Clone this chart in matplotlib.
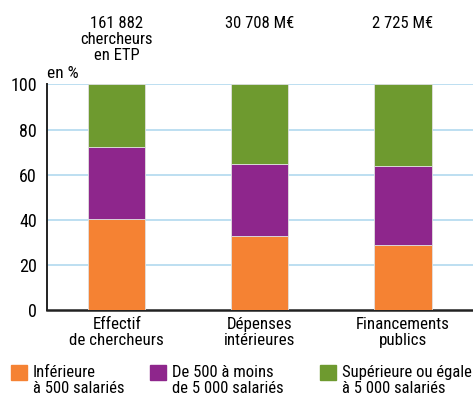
import matplotlib
matplotlib.use("agg")
import matplotlib.pyplot as plt
import matplotlib.transforms as mtransforms
from matplotlib.patches import Rectangle

plt.rcParams['font.family'] = ['Roboto Condensed', 'DejaVu Sans']

categories = ["Effectif\nde chercheurs", "Dépenses\nintérieures", "Financements\npublics"]
headers = ["161 882\nchercheurs\nen ETP", "30 708 M€", "2 725 M€"]
series_names = ["Inférieure\nà 500 salariés",
                "De 500 à moins\nde 5 000 salariés",
                "Supérieure ou égale\nà 5 000 salariés"]
small = [40.4, 32.8, 28.8]
medium = [31.7, 32.0, 34.9]
large = [27.9, 35.2, 36.3]
colors = ["#f58233", "#8e268c", "#6e9a2f"]
yticks = [0, 20, 40, 60, 80, 100]

fig = plt.figure(figsize=(4.73, 3.98), dpi=100)
ax = fig.add_axes([0.0987, 0.221, 0.9013, 0.567])

x = list(range(len(categories)))
bottom = [0.0] * len(x)
for vals, col in zip([small, medium, large], colors):
    ax.bar(x, vals, width=0.4, bottom=bottom, color=col,
           edgecolor="#e0e0e0", linewidth=0.6, zorder=3)
    bottom = [b + v for b, v in zip(bottom, vals)]

ax.set_xlim(-0.49, 2.49)
ax.set_ylim(0, 100)
ax.set_yticks(yticks)
ax.set_yticklabels([str(t) for t in yticks], fontsize=13)
ax.set_xticks(x)
ax.set_xticklabels(categories, fontsize=12.2, linespacing=1.05)
ax.tick_params(axis='both', length=0, pad=7)
ax.tick_params(axis='x', pad=5)
for t in yticks[1:]:
    ax.axhline(t, color="#b8dcf0", lw=1.3, zorder=1)
for s in ["top", "right"]:
    ax.spines[s].set_visible(False)
ax.spines["left"].set_linewidth(1.4)
ax.spines["bottom"].set_linewidth(1.8)
ax.spines["left"].set_color("#222222")
ax.spines["bottom"].set_color("#222222")

ax.text(0.0, 1.015, "en %", transform=ax.transAxes, fontsize=12.5,
        ha="left", va="bottom")

trans = mtransforms.blended_transform_factory(ax.transData, ax.transAxes)
for xi, h in zip(x, headers):
    ax.text(xi, 1.305, h, transform=trans, ha="center", va="top",
            fontsize=12, linespacing=1.12)

# legend
lx = [0.023, 0.317, 0.676]
for xi, col, name in zip(lx, colors, series_names):
    fig.add_artist(Rectangle((xi, 0.045), 0.034, 0.038, color=col,
                             transform=fig.transFigure))
    fig.text(xi + 0.047, 0.083, name, fontsize=12, ha="left", va="top",
             linespacing=1.05)

fig.savefig("out.png", dpi=100)
